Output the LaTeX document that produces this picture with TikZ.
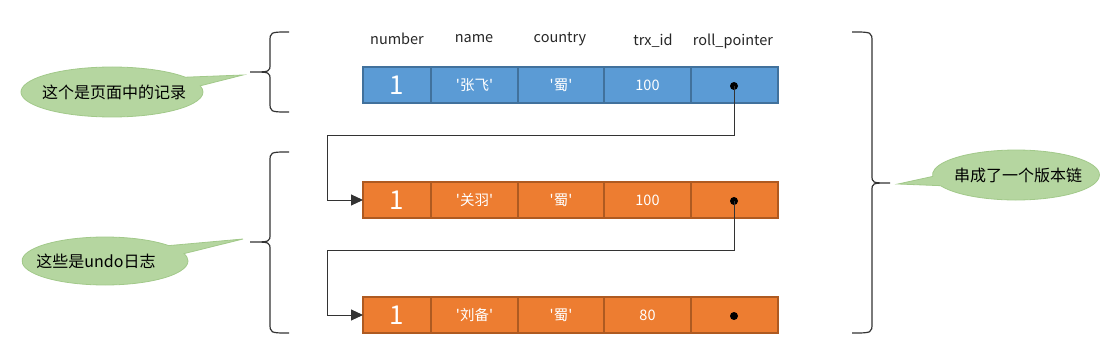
\documentclass[tikz,border=0pt]{standalone}
\usepackage{fontspec}
\setmainfont{Noto Sans CJK SC}[Ligatures=TeXOff]
\usetikzlibrary{shapes.callouts,arrows.meta}
\definecolor{bluefill}{HTML}{5B9BD5}
\definecolor{blueline}{HTML}{41719C}
\definecolor{orangefill}{HTML}{ED7D31}
\definecolor{orangeline}{HTML}{AE5A21}
\definecolor{greenfill}{HTML}{B5D6A0}
\definecolor{greenline}{HTML}{A2C98A}
\definecolor{bracecol}{HTML}{333333}
\tikzset{
  cell/.style={draw, line width=1.5pt, minimum height=36pt, inner sep=0pt, outer sep=0pt, text=white, font=\fontsize{14.5}{16}\selectfont},
  bluecell/.style={cell, fill=bluefill, draw=blueline},
  orangecell/.style={cell, fill=orangefill, draw=orangeline},
  bignum/.style={font=\fontsize{26}{28}\selectfont},
  header/.style={font=\fontsize{14.5}{16}\selectfont, text=black!85},
  dotmark/.style={circle, fill=black, inner sep=0pt, minimum size=8pt},
  link/.style={draw=black!80, line width=1pt, -{Triangle[length=12pt,width=11pt]}},
  bracepath/.style={draw=bracecol, line width=1.2pt},
  bubble/.style={ellipse callout, fill=greenfill, draw=greenline, line width=0.8pt, callout pointer arc=22, font=\fontsize{16}{18}\selectfont, text=black, inner sep=0pt},
}
\begin{document}
\begin{tikzpicture}[x=1pt,y=-1pt]
\useasboundingbox (0,0) rectangle (1117,361);
% headers
\node[header] (h1) at (397,39) {number};
\node[header] (h2) at (474,39) {name};
\node[header] (h3) at (560,39) {country};
\node[header] (h4) at (653,41) {trx\_id};
\node[header] (h5) at (733,41) {roll\_pointer};
% rows
\foreach \r/\y/\st/\nm in {a/85/bluecell/'张飞',b/200/orangecell/'关羽',c/315/orangecell/'刘备'}{
  \node[\st, bignum, minimum width=68pt] (\r1) at (397,\y) {1};
  \node[\st, minimum width=87pt] (\r2) at (474.5,\y) {\nm};
  \node[\st, minimum width=86pt] (\r3) at (561,\y) {'蜀'};
  \node[\st, minimum width=87pt] (\r5) at (734.5,\y) {};
}
\node[bluecell, minimum width=87pt] (a4) at (647.5,85) {100};
\node[orangecell, minimum width=87pt] (b4) at (647.5,200) {100};
\node[orangecell, minimum width=87pt] (c4) at (647.5,315) {80};
% dots
\node[dotmark] (da) at (734,86) {};
\node[dotmark] (db) at (734,201) {};
\node[dotmark] (dc) at (734,316) {};
% connectors
\draw[link] (da.center) |- (327,135) |- (b1.west);
\draw[link] (db.center) |- (327,250) |- (c1.west);
% braces
\path[bracepath] (289,32) .. controls (270,32) .. (270,42) -- (270,64) .. controls (270,72) .. (250,72) .. controls (270,72) .. (270,80) -- (270,102) .. controls (270,112) .. (289,112);
\path[bracepath] (289,152) .. controls (270,152) .. (270,162) -- (270,234) .. controls (270,242) .. (250,242) .. controls (270,242) .. (270,250) -- (270,323) .. controls (270,333) .. (289,333);
\path[bracepath] (852,32) .. controls (872,32) .. (872,42) -- (872,175) .. controls (872,183) .. (890,183) .. controls (872,183) .. (872,191) -- (872,323) .. controls (872,333) .. (852,333);
% callouts
\node[bubble, minimum width=182pt, minimum height=50pt, callout absolute pointer={(243,75)}] (c1n) at (112,92) {\makebox[0pt]{\hspace*{4pt}这个是页面中的记录}};
\node[bubble, minimum width=166pt, minimum height=48pt, callout absolute pointer={(243,239)}] (c2n) at (105,261) {\makebox[0pt]{\hspace*{-18pt}这些是undo日志}};
\node[bubble, minimum width=167pt, minimum height=50pt, callout absolute pointer={(898,184)}] (c3n) at (1016,175) {\makebox[0pt]{\hspace*{4pt}串成了一个版本链}};
\end{tikzpicture}
\end{document}
